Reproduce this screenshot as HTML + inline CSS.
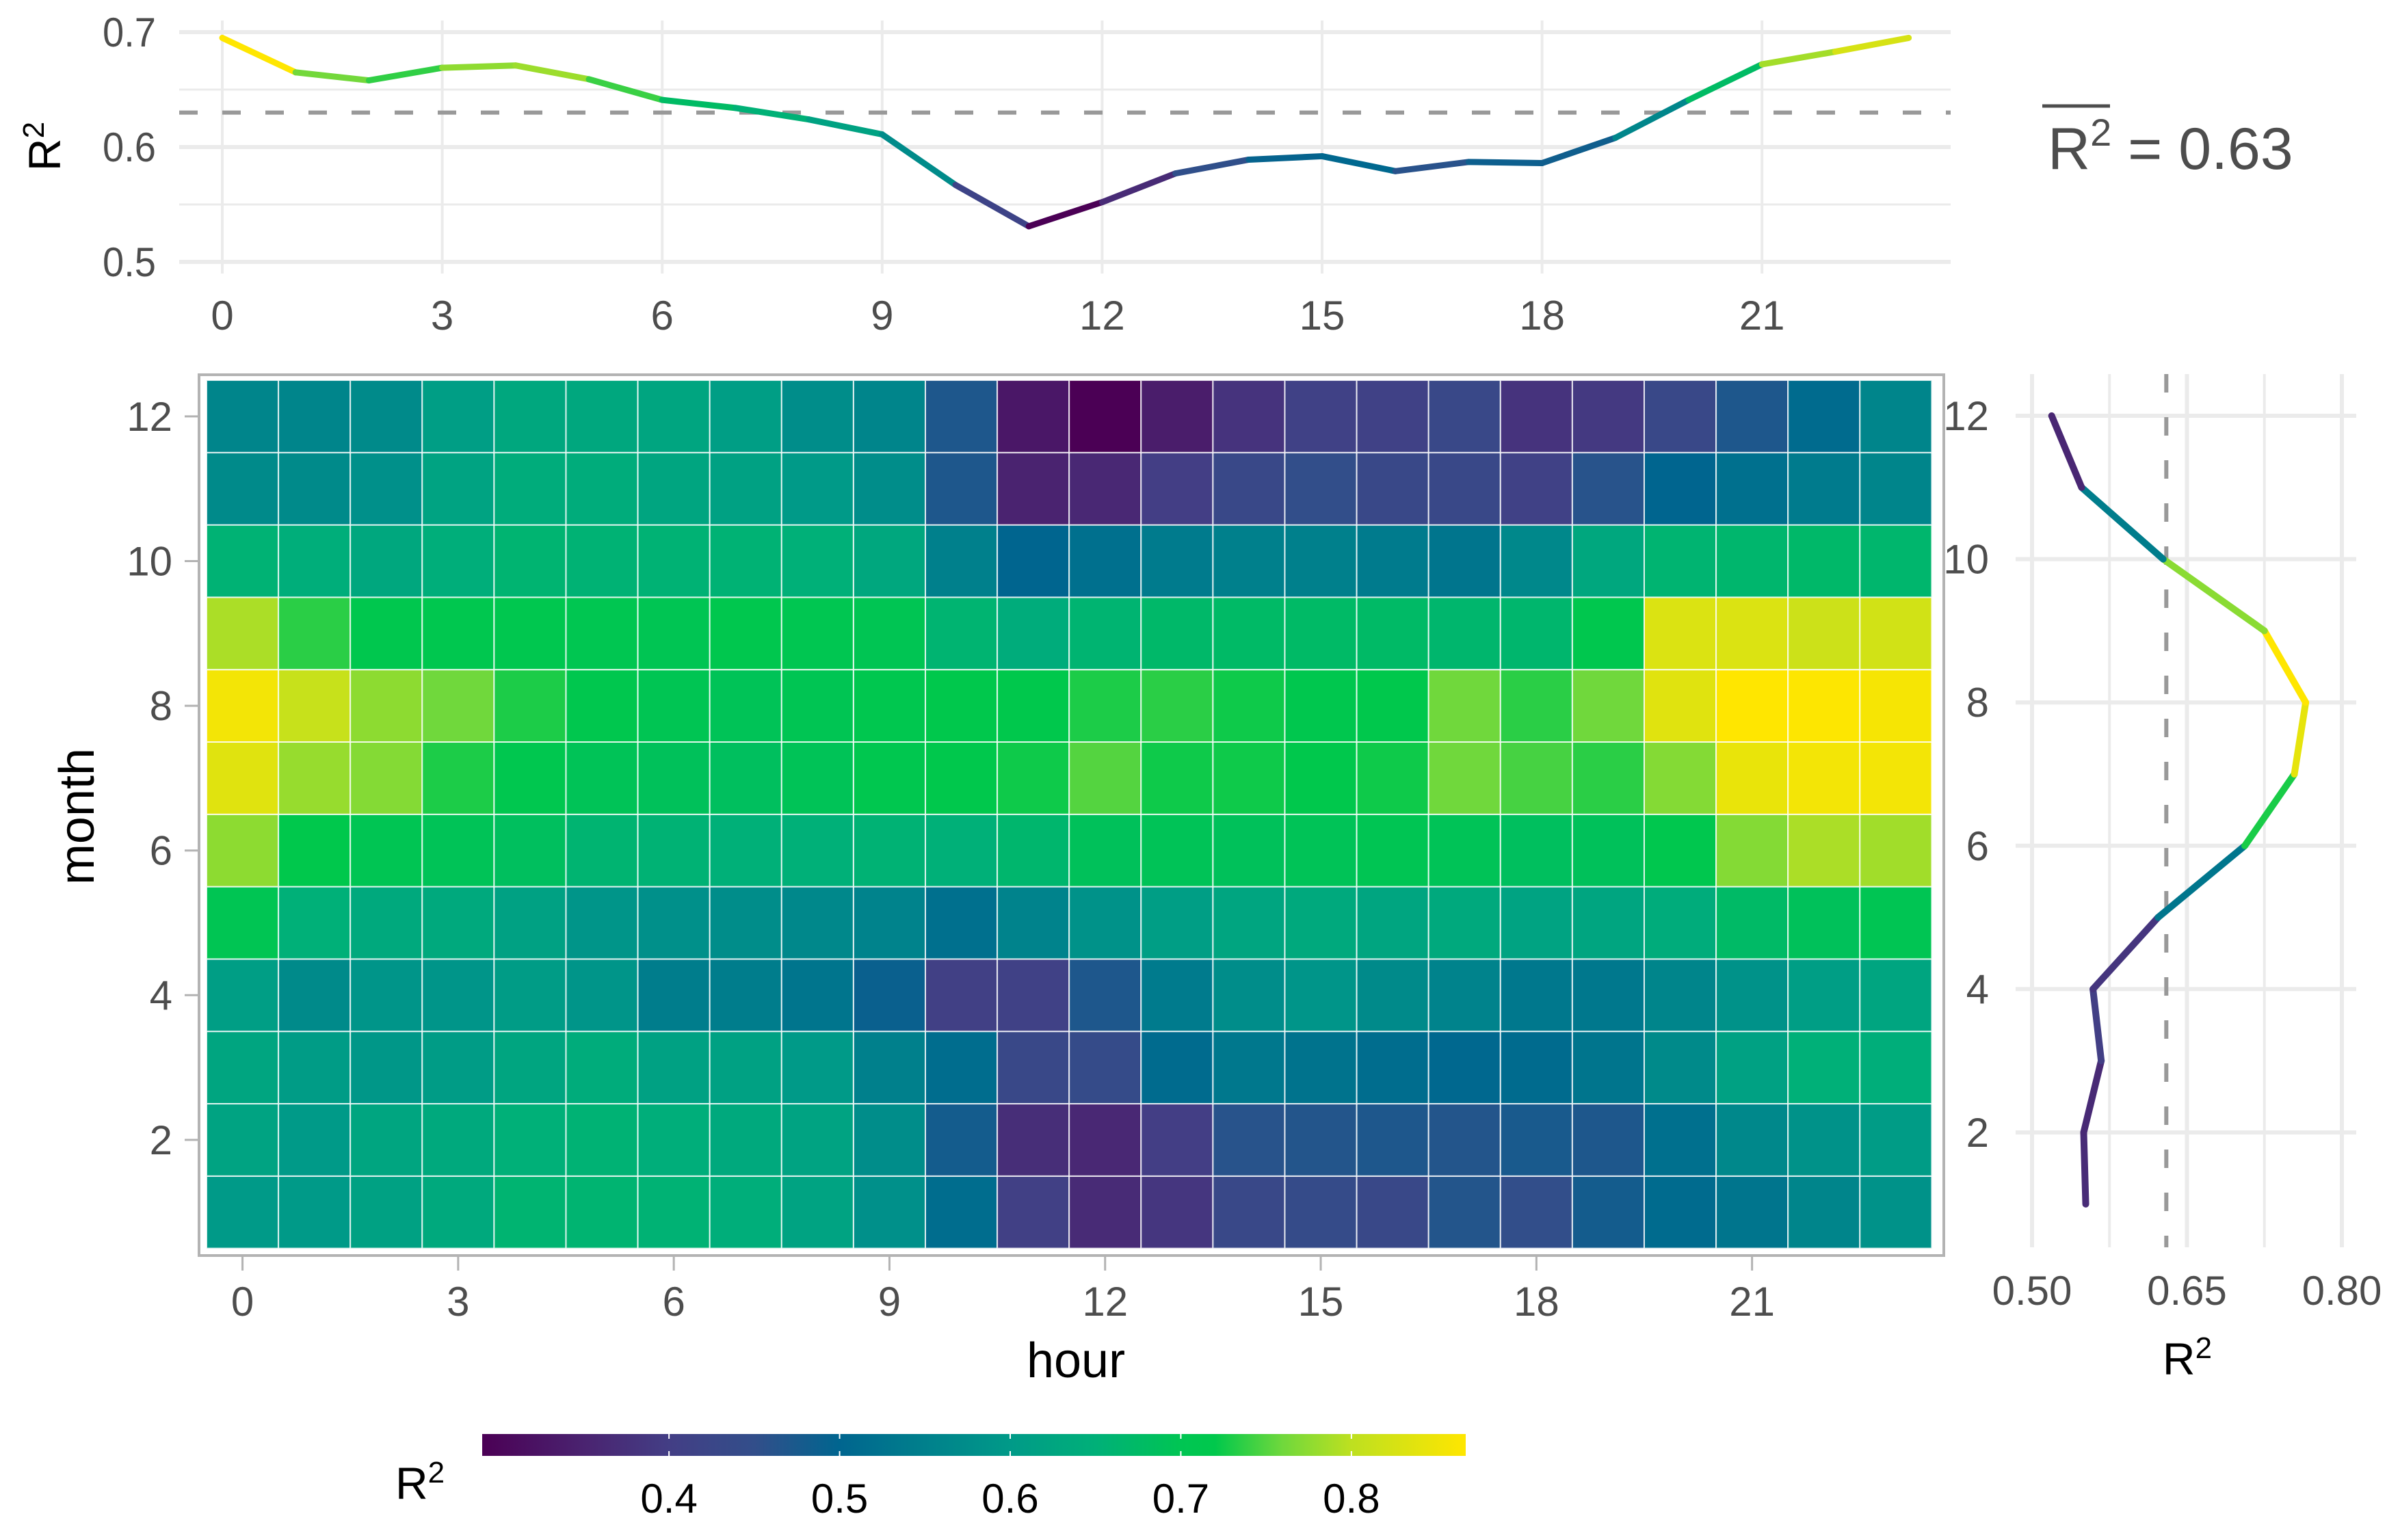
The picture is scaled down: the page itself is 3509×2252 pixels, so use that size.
<!DOCTYPE html>
<html><head><meta charset="utf-8"><style>
html,body{margin:0;padding:0;background:#fff;}
svg{display:block;font-family:"Liberation Sans",sans-serif;}
</style></head><body>
<svg id="chart" width="3509" height="2252" viewBox="0 0 3509 2252" xmlns="http://www.w3.org/2000/svg"></svg>
<script>
const hours = [0,1,2,3,4,5,6,7,8,9,10,11,12,13,14,15,16,17,18,19,20,21,22,23];
const months = [1,2,3,4,5,6,7,8,9,10,11,12];
const hourlyR2 = [0.695,0.665,0.658,0.669,0.671,0.659,0.641,0.634,0.624,0.611,0.567,0.531,0.552,0.577,0.589,0.592,0.579,0.587,0.586,0.608,0.641,0.672,0.683,0.695];
const monthlyR2 = [0.552,0.550,0.567,0.559,0.622,0.706,0.754,0.765,0.725,0.627,0.548,0.519];
const meanR2 = 0.63;
const m1 = [0.60,0.60,0.615,0.635,0.66,0.66,0.655,0.645,0.62,0.58,0.515,0.405,0.365,0.385,0.43,0.44,0.43,0.465,0.45,0.48,0.51,0.53,0.56,0.585];
const m2 = [0.62,0.60,0.625,0.635,0.65,0.655,0.645,0.635,0.62,0.575,0.48,0.37,0.36,0.40,0.46,0.465,0.47,0.465,0.475,0.47,0.52,0.565,0.585,0.605];
const m3 = [0.625,0.605,0.595,0.605,0.625,0.64,0.615,0.615,0.60,0.55,0.515,0.43,0.44,0.51,0.535,0.525,0.515,0.505,0.51,0.53,0.57,0.615,0.65,0.645];
const m4 = [0.61,0.57,0.59,0.59,0.605,0.59,0.545,0.545,0.53,0.49,0.405,0.41,0.47,0.54,0.575,0.59,0.57,0.555,0.535,0.535,0.56,0.585,0.61,0.625];
const m5 = [0.70,0.65,0.635,0.635,0.615,0.59,0.58,0.575,0.565,0.555,0.52,0.555,0.585,0.61,0.625,0.635,0.625,0.635,0.62,0.625,0.64,0.675,0.69,0.70];
const m6 = [0.775,0.72,0.70,0.695,0.685,0.66,0.655,0.65,0.65,0.655,0.65,0.665,0.69,0.695,0.69,0.695,0.70,0.695,0.685,0.69,0.715,0.77,0.79,0.785];
const m7 = [0.835,0.78,0.77,0.73,0.71,0.695,0.69,0.685,0.695,0.71,0.72,0.725,0.75,0.725,0.725,0.72,0.725,0.76,0.745,0.735,0.77,0.845,0.855,0.855];
const m8 = [0.855,0.81,0.775,0.76,0.73,0.715,0.70,0.695,0.70,0.71,0.72,0.72,0.73,0.735,0.725,0.715,0.72,0.76,0.735,0.76,0.835,0.867,0.865,0.858];
const m9 = [0.79,0.735,0.715,0.71,0.71,0.705,0.70,0.715,0.705,0.70,0.66,0.64,0.66,0.67,0.675,0.675,0.675,0.665,0.665,0.715,0.83,0.83,0.815,0.82];
const m10 = [0.655,0.645,0.63,0.645,0.66,0.655,0.655,0.655,0.65,0.63,0.55,0.50,0.52,0.54,0.55,0.55,0.54,0.53,0.565,0.63,0.66,0.665,0.67,0.665];
const m11 = [0.57,0.57,0.58,0.62,0.64,0.64,0.625,0.615,0.60,0.575,0.47,0.35,0.36,0.40,0.43,0.45,0.43,0.43,0.41,0.46,0.50,0.52,0.54,0.56];
const m12 = [0.56,0.56,0.57,0.61,0.63,0.63,0.625,0.61,0.575,0.56,0.47,0.33,0.29,0.34,0.38,0.41,0.41,0.43,0.38,0.39,0.43,0.47,0.51,0.56];
const heat = [m1,m2,m3,m4,m5,m6,m7,m8,m9,m10,m11,m12];
const topYTicks = [0.5,0.6,0.7];
const hourTicks = [0,3,6,9,12,15,18,21];
const monthTicks = [2,4,6,8,10,12];
const rightXTicks = [0.50,0.65,0.80];
const legendTicks = [0.4,0.5,0.6,0.7,0.8];
const fillMin = 0.2905, fillMax = 0.867;

const NS='http://www.w3.org/2000/svg';
const svg=document.getElementById('chart');
function mk(tag,attrs,parent){const e=document.createElementNS(NS,tag);for(const k in attrs)e.setAttribute(k,attrs[k]);(parent||svg).appendChild(e);return e;}
const stops=[[0,[75,0,85]],[0.104,[74,35,112]],[0.19,[67,62,133]],[0.277,[50,78,138]],[0.363,[0,101,143]],[0.45,[0,128,140]],[0.537,[0,154,136]],[0.624,[0,176,120]],[0.71,[0,197,83]],[0.745,[0,200,76]],[0.814,[112,216,60]],[0.883,[189,224,32]],[1,[255,230,0]]];
function pal(t){t=Math.max(0,Math.min(1,t));for(let i=1;i<stops.length;i++){if(t<=stops[i][0]){const a=stops[i-1],b=stops[i];const f=(t-a[0])/(b[0]-a[0]);const c=a[1].map((v,j)=>Math.round(v+(b[1][j]-v)*f));return 'rgb('+c.join(',')+')';}}return 'rgb(255,230,0)';}
const GRID='#ebebeb', TXT='#4d4d4d';

// ===== Top panel =====
const tx=h=>325+h*107.2;
const ty=v=>383-(v-0.5)*1680;
const gTop=mk('g',{});

[0.55,0.65].forEach(v=>mk('line',{x1:262,x2:2852,y1:ty(v),y2:ty(v),stroke:GRID,'stroke-width':3},gTop));
topYTicks.forEach(v=>mk('line',{x1:262,x2:2852,y1:ty(v),y2:ty(v),stroke:GRID,'stroke-width':6},gTop));
hourTicks.forEach(h=>mk('line',{x1:tx(h),x2:tx(h),y1:30,y2:400,stroke:GRID,'stroke-width':4},gTop));
topYTicks.forEach(v=>{const t=mk('text',{x:228,y:ty(v)+21,'text-anchor':'end','font-size':60,fill:TXT,textLength:78,lengthAdjust:'spacingAndGlyphs'},gTop);t.textContent=v.toFixed(1);});
hourTicks.forEach(h=>{const t=mk('text',{x:tx(h),y:482,'text-anchor':'middle','font-size':60,fill:TXT},gTop);t.textContent=h;});
const topTitle=mk('text',{x:0,y:0,transform:'translate(88,214) rotate(-90)','text-anchor':'middle','font-size':66,fill:'#000'},gTop);
topTitle.innerHTML='R<tspan dy="-24" font-size="44">2</tspan>';

const dash=mk('line',{x1:262,x2:2852,y1:ty(meanR2),y2:ty(meanR2),stroke:'#999','stroke-width':6,'stroke-dasharray':'27,36'},gTop);

const hMin=Math.min(...hourlyR2),hMax=Math.max(...hourlyR2);
for(let i=0;i<hours.length-1;i++){
  const s=mk('line',{x1:tx(hours[i]),y1:ty(hourlyR2[i]),x2:tx(hours[i+1]),y2:ty(hourlyR2[i+1]),stroke:pal((hourlyR2[i]-hMin)/(hMax-hMin)),'stroke-width':9,'stroke-linecap':'round'},gTop);
  
}
const ann=mk('text',{x:2994,y:247,'font-size':86,fill:TXT},gTop);
ann.innerHTML='R<tspan dy="-34" font-size="56">2</tspan><tspan dy="34"> = 0.63</tspan>';

mk('line',{x1:2986,x2:3085,y1:155,y2:155,stroke:TXT,'stroke-width':5},gTop);

// ===== Heatmap =====
const cw=105.1, ch=105.8, hx0=302, hy0=556;
const hxc=h=>hx0+(h+0.5)*cw;
const hyc=m=>hy0+(12-m+0.5)*ch;
const gH=mk('g',{});

mk('rect',{x:291,y:548,width:2551,height:1288,fill:'none',stroke:'#b3b3b3','stroke-width':4},gH);
months.forEach((m,mi)=>{hours.forEach((h,hi)=>{
  const v=heat[mi][hi];
  const r=mk('rect',{x:hxc(h)-cw/2,y:hyc(m)-ch/2,width:cw,height:ch,fill:pal((v-fillMin)/(fillMax-fillMin)),stroke:'#fff','stroke-width':2,'stroke-opacity':0.8},gH);
  
});});
monthTicks.forEach(m=>{mk('line',{x1:270,x2:290,y1:hyc(m),y2:hyc(m),stroke:'#b3b3b3','stroke-width':3},gH);
  const t=mk('text',{x:252,y:hyc(m)+21,'text-anchor':'end','font-size':60,fill:TXT},gH);t.textContent=m;});
hourTicks.forEach(h=>{mk('line',{x1:hxc(h),x2:hxc(h),y1:1838,y2:1858,stroke:'#b3b3b3','stroke-width':3},gH);
  const t=mk('text',{x:hxc(h),y:1924,'text-anchor':'middle','font-size':60,fill:TXT},gH);t.textContent=h;});
const xt=mk('text',{x:1573,y:2014,'text-anchor':'middle','font-size':72,fill:'#000'},gH);xt.textContent='hour';

const yt=mk('text',{x:0,y:0,transform:'translate(137,1194) rotate(-90)','text-anchor':'middle','font-size':72,fill:'#000'},gH);yt.textContent='month';


// ===== Right panel =====
const rx=v=>2971+(v-0.5)*1510;
const ry=m=>608+(12-m)*104.8;
const gR=mk('g',{});

[0.575,0.725].forEach(v=>mk('line',{x1:rx(v),x2:rx(v),y1:547,y2:1824,stroke:GRID,'stroke-width':4},gR));
rightXTicks.forEach(v=>mk('line',{x1:rx(v),x2:rx(v),y1:547,y2:1824,stroke:GRID,'stroke-width':6},gR));
monthTicks.forEach(m=>mk('line',{x1:2947,x2:3445,y1:ry(m),y2:ry(m),stroke:GRID,'stroke-width':6},gR));
monthTicks.forEach(m=>{const t=mk('text',{x:2908,y:ry(m)+21,'text-anchor':'end','font-size':60,fill:TXT},gR);t.textContent=m;});
rightXTicks.forEach(v=>{const t=mk('text',{x:rx(v),y:1908,'text-anchor':'middle','font-size':60,fill:TXT},gR);t.textContent=v.toFixed(2);});
const rt=mk('text',{x:3198,y:2010,'text-anchor':'middle','font-size':66,fill:'#000'},gR);
rt.innerHTML='R<tspan dy="-24" font-size="44">2</tspan>';

const rd=mk('line',{x1:rx(meanR2),x2:rx(meanR2),y1:547,y2:1824,stroke:'#999','stroke-width':6,'stroke-dasharray':'27,36'},gR);

const mMin=Math.min(...monthlyR2),mMax=Math.max(...monthlyR2);
for(let i=0;i<months.length-1;i++){
  const s=mk('line',{x1:rx(monthlyR2[i]),y1:ry(months[i]),x2:rx(monthlyR2[i+1]),y2:ry(months[i+1]),stroke:pal((monthlyR2[i]-mMin)/(mMax-mMin)),'stroke-width':10,'stroke-linecap':'round'},gR);
  
}

// ===== Legend =====
const lx=v=>705+(v-fillMin)/(fillMax-fillMin)*(2143-705);
const gL=mk('g',{});

const defs=mk('defs',{});
const grad=mk('linearGradient',{id:'lg',x1:0,x2:1,y1:0,y2:0},defs);
stops.forEach(s=>mk('stop',{offset:s[0],'stop-color':'rgb('+s[1].join(',')+')'},grad));
const bar=mk('rect',{x:705,y:2097,width:1438,height:32,fill:'url(#lg)'},gL);

legendTicks.forEach(v=>{mk('line',{x1:lx(v),x2:lx(v),y1:2097,y2:2104,stroke:'#fff','stroke-width':2},gL);mk('line',{x1:lx(v),x2:lx(v),y1:2122,y2:2129,stroke:'#fff','stroke-width':2},gL);
  const t=mk('text',{x:lx(v),y:2212,'text-anchor':'middle','font-size':60,fill:'#000'},gL);t.textContent=v.toFixed(1);});
const lt=mk('text',{x:578,y:2192,'font-size':66,fill:'#000'},gL);
lt.innerHTML='R<tspan dy="-24" font-size="44">2</tspan>';

</script>
</body></html>
